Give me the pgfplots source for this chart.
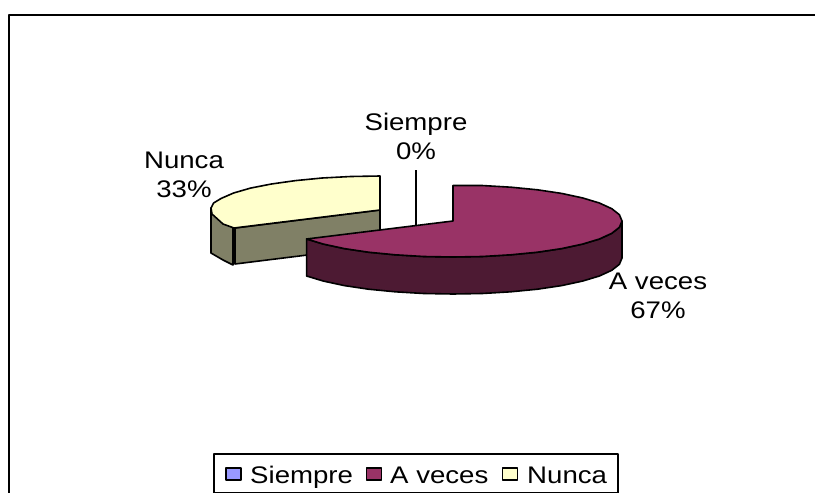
\documentclass[border=0pt]{standalone}
\usepackage{fontspec}
\setmainfont{Liberation Sans}
\usepackage{pgfplots}
\pgfplotsset{compat=1.18}
\tikzset{lab/.style={font=\fontsize{24}{29}\selectfont, align=center, xscale=1.15, text=black, inner sep=0pt}}
\definecolor{cside}{RGB}{128,128,102}
\definecolor{cyel}{RGB}{255,255,204}
\definecolor{cmar}{RGB}{153,51,102}
\definecolor{cdark}{RGB}{77,26,51}
\definecolor{cblue}{RGB}{153,153,255}
\begin{document}
\begin{tikzpicture}
\useasboundingbox (0,0) rectangle (815pt,493pt);
\begin{axis}[
  at={(0,0)}, anchor=south west,
  scale only axis, width=815pt, height=493pt,
  xmin=0, xmax=815, ymin=0, ymax=493, y dir=reverse,
  hide axis, clip=true,
  every axis plot/.append style={line join=round},
]
% frame
\addplot[black, line width=2.2pt] coordinates {(9,493) (9,15) (815,15)};
% Nunca: inner side face
\addplot[fill=cside, draw=black, line width=1.6pt] coordinates {(235,228) (380,210) (380,246) (235,264)} -- cycle;
% Nunca: outer side face
\addplot[fill=cside, draw=black, line width=1.6pt] coordinates {(211,208) (233,228) (233,265) (223,260) (211,253)} -- cycle;
% Nunca: top
\addplot[fill=cyel, draw=black, line width=1.6pt] coordinates {(380,176) (350.7,176.5) (322.2,178) (295.5,180.6) (271.4,184) (250.5,188.1) (233.6,193) (221.2,198.4) (213.6,203) (211,208) (212,214) (223,224) (234,228) (380,210)} -- cycle;
% leader Siempre
\addplot[black, line width=1.6pt] coordinates {(416,170) (416,226)};
% A veces: side
\addplot[fill=cdark, draw=black, line width=1.6pt] coordinates {(622,221) (619.4,227.3) (611.8,233.3) (599.4,239) (582.5,244.1) (561.6,248.6) (537.5,252.2) (510.8,254.8) (482.3,256.5) (453,257) (423.7,256.5) (395.2,254.8) (368.5,252.2) (344.4,248.6) (323.5,244.1) (306.6,239) (306.6,276) (323.5,281.1) (344.4,285.6) (368.5,289.2) (395.2,291.8) (423.7,293.5) (453,294) (482.3,293.5) (510.8,291.8) (537.5,289.2) (561.6,285.6) (582.5,281.1) (599.4,276) (611.8,270.3) (619.4,264.3) (622,258)} -- cycle;
% A veces: top
\addplot[fill=cmar, draw=black, line width=1.6pt] coordinates {(453,185.5) (482,185.5) (511,187.2) (537.5,189.8) (561.6,193.4) (582.5,197.9) (599.4,203) (611.8,208.7) (619.4,214.7) (622,221) (619.4,227.3) (611.8,233.3) (599.4,239) (582.5,244.1) (561.6,248.6) (537.5,252.2) (510.8,254.8) (482.3,256.5) (453,257) (423.7,256.5) (395.2,254.8) (368.5,252.2) (344.4,248.6) (323.5,244.1) (306.6,239) (453,221)} -- cycle;
% legend box
\addplot[fill=white, draw=black, line width=1.8pt] coordinates {(214,454) (618,454) (618,493) (214,493)} -- cycle;
\addplot[fill=cblue, draw=black, line width=1.4pt] coordinates {(226,468) (241,468) (241,480) (226,480)} -- cycle;
\addplot[fill=cmar, draw=black, line width=1.4pt] coordinates {(366.5,468) (381.5,468) (381.5,480) (366.5,480)} -- cycle;
\addplot[fill=cyel, draw=black, line width=1.4pt] coordinates {(502.5,468) (517.5,468) (517.5,480) (502.5,480)} -- cycle;
% labels
\node[lab] at (axis cs:416,136) {Siempre\\0\%};
\node[lab] at (axis cs:184,175) {Nunca\\33\%};
\node[lab] at (axis cs:658,296) {A veces\\67\%};
\node[lab, anchor=base west] at (axis cs:250,483) {Siempre};
\node[lab, anchor=base west] at (axis cs:390,483) {A veces};
\node[lab, anchor=base west] at (axis cs:527,483) {Nunca};
\end{axis}
\end{tikzpicture}
\end{document}
